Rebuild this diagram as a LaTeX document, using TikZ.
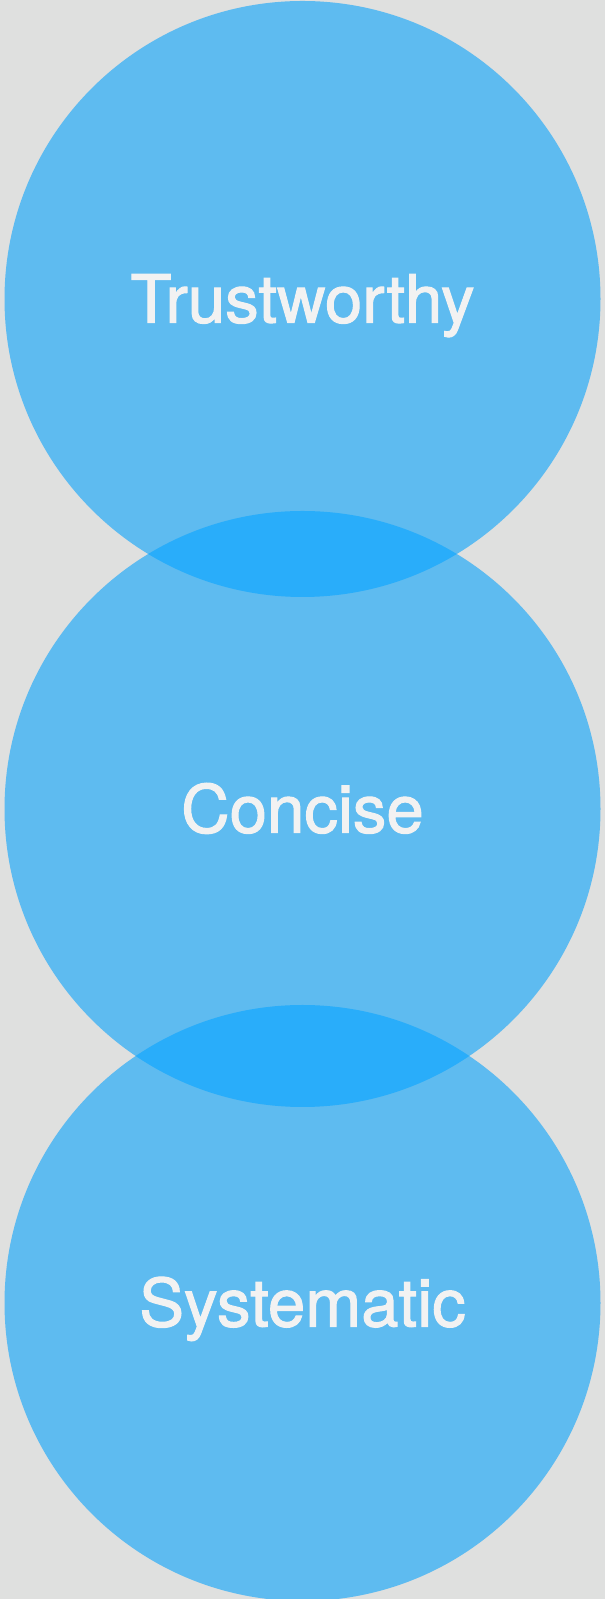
\documentclass[tikz,border=0pt]{standalone}
\usepackage{fontspec}
\newfontfamily\labelfont{TeX Gyre Heros}[FakeBold=1.6,FakeStretch=1.01]
\definecolor{bgc}{HTML}{DFE0DF}
\definecolor{circc}{HTML}{5EBBF0}
\definecolor{lensc}{HTML}{29ADFA}
\definecolor{txtc}{HTML}{F2F2F2}
\begin{document}
\begin{tikzpicture}[x=1pt,y=1pt,
  disc/.style={fill=circc, draw=none},
  lens/.style={fill=lensc, draw=none},
  label/.style={text=txtc, anchor=base, inner sep=0pt, font=\labelfont\fontsize{66.5}{80}\selectfont}]
\fill[bgc] (0,0) rectangle (605,1599);
\useasboundingbox (0,0) rectangle (605,1599);
\coordinate (ct) at (302.5,1300);
\coordinate (cm) at (302.5,790);
\coordinate (cb) at (302.5,296);
\fill[disc] (ct) circle (298);
\fill[disc] (cm) circle (298);
\fill[disc] (cb) circle (298);
\begin{scope}
  \clip (ct) circle (298);
  \fill[lens] (cm) circle (298);
\end{scope}
\begin{scope}
  \clip (cm) circle (298);
  \fill[lens] (cb) circle (298);
\end{scope}
\node[label] (t1) at (302.5,1276.3) {Trustworthy};
\node[label] (t2) at (302.5,766.3) {Concise};
\node[label] (t3) at (302.5,272.5) {Systematic};
\end{tikzpicture}
\end{document}
